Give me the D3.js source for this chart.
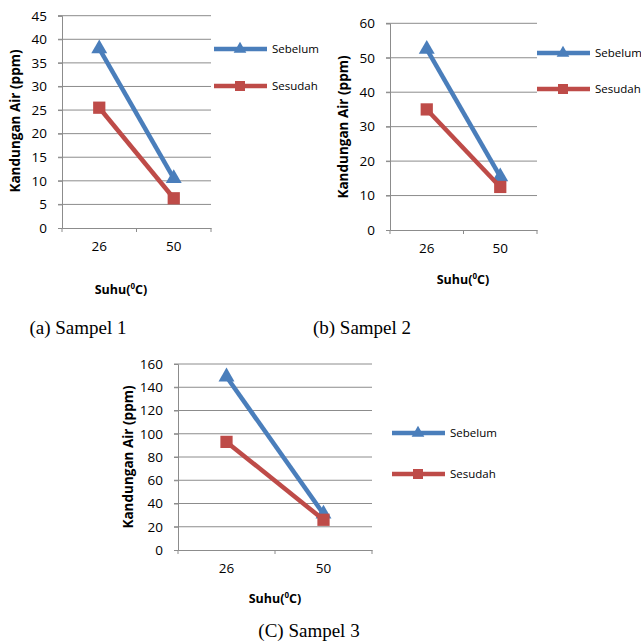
<!DOCTYPE html>
<html>
<head>
<meta charset="utf-8">
<script src="https://cdn.jsdelivr.net/npm/d3@7"></script>
<style>
  body { margin: 0; background: #fff; }
  svg { display: block; }
  .tick text { font-family: 'Open Sans', sans-serif; }
</style>
</head>
<body>
<div class="root"></div>
<script>
var categories = ['26', '50'];
var seriesNames = ['Sebelum', 'Sesudah'];

var sampel1Sebelum = [38, 10.5];
var sampel1Sesudah = [25.5, 6.3];
var sampel2Sebelum = [52.5, 15.5];
var sampel2Sesudah = [35, 12.5];
var sampel3Sebelum = [149, 31];
var sampel3Sesudah = [93, 26];

var ticks1 = [0, 5, 10, 15, 20, 25, 30, 35, 40, 45];
var ticks2 = [0, 10, 20, 30, 40, 50, 60];
var ticks3 = [0, 20, 40, 60, 80, 100, 120, 140, 160];

var captions = ['(a) Sampel 1', '(b) Sampel 2', '(C) Sampel 3'];

var blue = '#4a7ebb', red = '#be4b48', grid = '#8c8c8c';

var svg = d3.select('.root').append('svg')
  .attr('width', 641)
  .attr('height', 642);

function drawChart(c) {
  var x = d3.scaleBand().domain(categories).range([c.left, c.right]);
  var y = d3.scaleLinear().domain([0, d3.max(c.ticks)]).range([c.bottom, c.top]);
  var g = svg.append('g');

  // horizontal gridlines
  g.selectAll('.grid')
    .data(c.ticks.filter(function(t) { return t > 0; }))
    .enter().append('line')
      .attr('x1', c.left - 4).attr('x2', c.right)
      .attr('y1', function(d) { return y(d); })
      .attr('y2', function(d) { return y(d); })
      .attr('stroke', grid).attr('stroke-width', 1);

  var yAxis = g.append('g')
    .attr('transform', 'translate(' + c.left + ',0)')
    .call(d3.axisLeft(y).tickValues(c.ticks).tickSize(4).tickPadding(11));
  yAxis.selectAll('line, path').attr('stroke', grid);
  yAxis.selectAll('text').attr('font-size', 13.5).attr('fill', '#000');

  var xAxis = g.append('g')
    .attr('transform', 'translate(0,' + c.bottom + ')')
    .call(d3.axisBottom(x).tickSize(0).tickPadding(13));
  xAxis.select('path').attr('stroke', grid);
  xAxis.selectAll('text').attr('font-size', 13.5).attr('fill', '#000');

  // tick marks on category boundaries
  g.selectAll('.xt')
    .data([c.left, x(categories[1]), c.right])
    .enter().append('line')
      .attr('x1', function(d) { return d; }).attr('x2', function(d) { return d; })
      .attr('y1', c.bottom).attr('y2', c.bottom + 4)
      .attr('stroke', grid);

  var line = d3.line()
    .x(function(d, i) { return x(categories[i]) + x.bandwidth() / 2; })
    .y(function(d) { return y(d); });

  var series = [
    {name: seriesNames[0], values: c.sebelum, color: blue, marker: d3.symbolTriangle},
    {name: seriesNames[1], values: c.sesudah, color: red, marker: d3.symbolSquare}
  ];

  series.forEach(function(s, k) {
    g.append('path')
      .attr('d', line(s.values))
      .attr('fill', 'none')
      .attr('stroke', s.color)
      .attr('stroke-width', 4.5);
    g.selectAll('.m' + k)
      .data(s.values)
      .enter().append('path')
        .attr('d', d3.symbol().type(s.marker).size(k == 0 ? 110 : 150))
        .attr('transform', function(d, i) {
          return 'translate(' + (x(categories[i]) + x.bandwidth() / 2) + ',' + y(d) + ')';
        })
        .attr('fill', s.color);

    // legend
    var ly = c.legendY[k];
    g.append('line')
      .attr('x1', c.legendX).attr('x2', c.legendX + 53)
      .attr('y1', ly).attr('y2', ly)
      .attr('stroke', s.color).attr('stroke-width', 4.5);
    g.append('path')
      .attr('d', d3.symbol().type(s.marker).size(k == 0 ? 70 : 100))
      .attr('transform', 'translate(' + (c.legendX + 26) + ',' + ly + ')')
      .attr('fill', s.color);
    g.append('text')
      .attr('x', c.legendX + 58)
      .attr('y', ly + 4)
      .attr('font-family', 'Open Sans, sans-serif')
      .attr('font-size', 11.5)
      .text(s.name);
  });

  g.append('text')
    .attr('transform', 'translate(' + c.yTitleX + ',' + c.yTitleY + ') rotate(-90)')
    .attr('text-anchor', 'middle')
    .attr('font-family', 'Open Sans, sans-serif')
    .attr('font-weight', 'bold')
    .attr('font-size', 13.5)
    .text('Kandungan Air (ppm)');

  var xt = g.append('text')
    .attr('x', c.xTitleX)
    .attr('y', c.xTitleY)
    .attr('text-anchor', 'middle')
    .attr('font-family', 'Open Sans, sans-serif')
    .attr('font-weight', 'bold')
    .attr('font-size', 12.5);
  xt.append('tspan').text('Suhu(');
  xt.append('tspan').attr('font-size', 8).attr('dy', -5).text('0');
  xt.append('tspan').attr('dy', 5).text('C)');

  svg.append('text')
    .attr('x', c.capX)
    .attr('y', c.capY)
    .attr('text-anchor', 'middle')
    .attr('font-family', 'Liberation Serif, Times New Roman, serif')
    .attr('font-size', 19)
    .text(c.caption);
}

drawChart({
  left: 62, right: 211, top: 15.7, bottom: 228,
  ticks: ticks1, sebelum: sampel1Sebelum, sesudah: sampel1Sesudah,
  legendX: 214, legendY: [49, 86],
  yTitleX: 20, yTitleY: 121, xTitleX: 121, xTitleY: 294,
  capX: 78, capY: 334, caption: captions[0]
});

drawChart({
  left: 390, right: 537, top: 23.3, bottom: 230,
  ticks: ticks2, sebelum: sampel2Sebelum, sesudah: sampel2Sesudah,
  legendX: 537, legendY: [53, 89],
  yTitleX: 348, yTitleY: 127, xTitleX: 463, xTitleY: 284,
  capX: 362, capY: 334, caption: captions[1]
});

drawChart({
  left: 178, right: 372, top: 364, bottom: 550,
  ticks: ticks3, sebelum: sampel3Sebelum, sesudah: sampel3Sesudah,
  legendX: 392, legendY: [433, 474],
  yTitleX: 133, yTitleY: 457, xTitleX: 275, xTitleY: 603,
  capX: 309, capY: 637, caption: captions[2]
});
</script>
</body>
</html>
